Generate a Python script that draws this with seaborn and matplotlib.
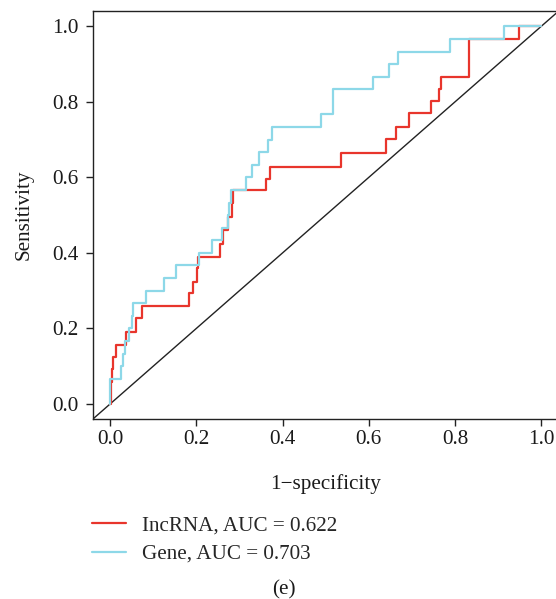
import matplotlib
matplotlib.use("Agg")
import matplotlib.pyplot as plt
import seaborn as sns
import pandas as pd

# ROC staircase vertices: at each false-positive rate the sensitivity rises to the given level
lncrna_fpr = [0.0, 0.003, 0.004, 0.008, 0.013, 0.036, 0.060, 0.075, 0.182, 0.192,
              0.201, 0.204, 0.254, 0.263, 0.274, 0.282, 0.286, 0.362, 0.371, 0.536,
              0.640, 0.664, 0.694, 0.745, 0.763, 0.768, 0.833, 0.948, 1.0]
lncrna_tpr = [0.0, 0.059, 0.094, 0.125, 0.156, 0.191, 0.227, 0.259, 0.293, 0.324,
              0.359, 0.390, 0.423, 0.461, 0.496, 0.531, 0.567, 0.596, 0.628, 0.665,
              0.701, 0.734, 0.770, 0.803, 0.834, 0.867, 0.967, 1.0, 1.0]

gene_fpr = [0.0, 0.0, 0.025, 0.031, 0.035, 0.043, 0.050, 0.054, 0.083, 0.125,
            0.153, 0.206, 0.237, 0.259, 0.274, 0.277, 0.280, 0.316, 0.329, 0.346,
            0.367, 0.375, 0.490, 0.516, 0.609, 0.647, 0.667, 0.789, 0.913, 1.0]
gene_tpr = [0.0, 0.067, 0.100, 0.133, 0.167, 0.200, 0.233, 0.267, 0.300, 0.333,
            0.367, 0.400, 0.433, 0.467, 0.500, 0.533, 0.567, 0.600, 0.633, 0.667,
            0.700, 0.733, 0.767, 0.833, 0.867, 0.900, 0.933, 0.967, 1.0, 1.0]

series_labels = ["IncRNA, AUC = 0.622", "Gene, AUC = 0.703"]
series_colors = ["#E8352C", "#8DD8E8"]
ticks = [0.0, 0.2, 0.4, 0.6, 0.8, 1.0]
tick_labels = ["0.0", "0.2", "0.4", "0.6", "0.8", "1.0"]

sns.set_style("ticks")
plt.rcParams["font.family"] = ["Liberation Serif", "DejaVu Serif"]
plt.rcParams["axes.edgecolor"] = "#222222"
plt.rcParams["axes.linewidth"] = 1.0

FS = 15.2

fig = plt.figure(figsize=(5.56, 5.99), dpi=100)
ax = fig.add_axes([0.1669, 0.3003, 0.8376, 0.681])

# chance diagonal across the whole plotting region
ax.axline((0, 0), (1, 1), color="#222222", lw=1.0, zorder=1)

df_l = pd.DataFrame({"fpr": lncrna_fpr, "tpr": lncrna_tpr})
df_g = pd.DataFrame({"fpr": gene_fpr, "tpr": gene_tpr})
sns.lineplot(data=df_l, x="fpr", y="tpr", ax=ax, color=series_colors[0], lw=1.6,
             drawstyle="steps-post", sort=False, estimator=None, zorder=2)
sns.lineplot(data=df_g, x="fpr", y="tpr", ax=ax, color=series_colors[1], lw=1.6,
             drawstyle="steps-post", sort=False, estimator=None, zorder=3)

ax.set_xlim(-0.04, 1.04)
ax.set_ylim(-0.04, 1.04)
ax.set_xticks(ticks)
ax.set_xticklabels(tick_labels)
ax.set_yticks(ticks)
ax.set_yticklabels(tick_labels)
ax.tick_params(axis="both", direction="out", length=5, width=1.0, color="#222222",
               labelsize=FS, labelcolor="#1a1a1a")
ax.tick_params(axis="x", pad=2.5)
ax.tick_params(axis="y", pad=5.5)
for s in ax.spines.values():
    s.set_visible(True)

ax.set_xlabel("1\u2212specificity", fontsize=FS, color="#1a1a1a", va="center", ha="center")
ax.xaxis.set_label_coords(0.5, -0.158)
ax.set_ylabel("Sensitivity", fontsize=FS, color="#1a1a1a", va="center", ha="center")
ax.yaxis.set_label_coords(-0.148, 0.5)

handles = ax.get_lines()[1:3]
ax.legend(handles, series_labels, loc="upper left", bbox_to_anchor=(92 / 556, 1 - 516 / 599),
          bbox_transform=fig.transFigure, frameon=False, fontsize=FS, borderaxespad=0,
          borderpad=0, handlelength=1.6, handletextpad=0.75, labelspacing=0.4)

fig.text(284 / 556, 1 - 590 / 599, "(e)", fontsize=FS, ha="center", va="center", color="#1a1a1a")

fig.savefig("out.png", dpi=100)
